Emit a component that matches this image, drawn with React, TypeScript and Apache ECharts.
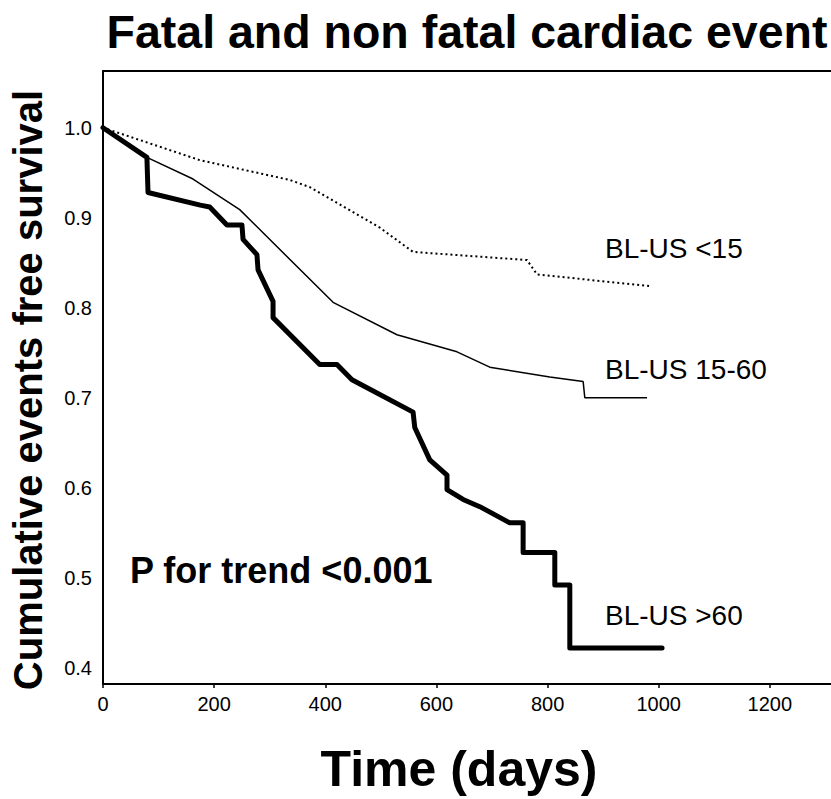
import React, { useEffect, useRef } from "react";
import * as echarts from "echarts";

// BL-US >60 (thick)
const highDays = [0, 79, 81, 175, 192, 223, 250, 252, 277, 279, 306, 306, 390, 421, 448, 558, 561, 588, 619, 619, 648, 678, 732, 756, 756, 813, 813, 840, 840, 1006];
const highSurv = [1.0, 0.967, 0.928, 0.914, 0.912, 0.892, 0.892, 0.876, 0.859, 0.842, 0.807, 0.789, 0.737, 0.737, 0.72, 0.684, 0.667, 0.631, 0.614, 0.598, 0.587, 0.579, 0.561, 0.561, 0.528, 0.528, 0.492, 0.492, 0.422, 0.422];

// BL-US 15-60 (thin)
const midDays = [0, 79, 162, 246, 414, 529, 637, 696, 804, 864, 867, 979];
const midSurv = [1.0, 0.967, 0.943, 0.909, 0.806, 0.77, 0.751, 0.734, 0.723, 0.718, 0.7, 0.7];

// BL-US <15 (dotted)
const lowDays = [0, 174, 336, 372, 498, 558, 763, 781, 984];
const lowSurv = [1.0, 0.964, 0.942, 0.934, 0.889, 0.862, 0.853, 0.837, 0.824];

const xTicks = [0, 200, 400, 600, 800, 1000, 1200];
const yTicks = [0.4, 0.5, 0.6, 0.7, 0.8, 0.9, 1.0];

const titleText = "Fatal and non fatal cardiac event";
const xName = "Time (days)";
const yName = "Cumulative events free survival";
const pText = "P for trend <0.001";
const seriesNames = ["BL-US <15", "BL-US 15-60", "BL-US >60"];

const FONT = "'Liberation Sans', Arial, Helvetica, sans-serif";

function pairs(xs: number[], ys: number[]) {
  return xs.map((x, i) => [x, ys[i]]);
}

export default function App() {
  const ref = useRef<HTMLDivElement>(null);
  useEffect(() => {
    document.body.style.margin = "0";
    const chart = echarts.init(ref.current!, null, { renderer: "svg" });
    const axisLine = { show: true, lineStyle: { color: "#000", width: 2 } };
    chart.setOption({
      animation: false,
      backgroundColor: "#fff",
      grid: { left: 103, right: 0, top: 71, bottom: 115, containLabel: false, outerBoundsMode: "none" },
      xAxis: [
        {
          type: "value",
          min: 0,
          max: 1310,
          position: "bottom",
          axisLine,
          axisTick: { show: true, length: 4, customValues: xTicks, lineStyle: { color: "#000", width: 1.5 } },
          axisLabel: {
            customValues: xTicks,
            formatter: (v: number) => String(v),
            fontSize: 20,
            color: "#000",
            fontFamily: FONT,
            margin: 10,
          },
          splitLine: { show: false },
        },
        {
          type: "value",
          min: 0,
          max: 1310,
          position: "top",
          axisLine,
          axisTick: { show: false },
          axisLabel: { show: false },
          splitLine: { show: false },
        },
      ],
      yAxis: {
        type: "value",
        min: 0.382,
        max: 1.063,
        axisLine,
        axisTick: { show: false },
        axisLabel: {
          customValues: yTicks,
          formatter: (v: number) => v.toFixed(1),
          fontSize: 20,
          color: "#000",
          fontFamily: FONT,
          margin: 11,
        },
        splitLine: { show: false },
      },
      series: [
        {
          name: seriesNames[0],
          type: "line",
          data: pairs(lowDays, lowSurv),
          showSymbol: false,
          symbol: "none",
          lineStyle: { color: "#000", width: 2, type: [2, 3] },
        },
        {
          name: seriesNames[1],
          type: "line",
          data: pairs(midDays, midSurv),
          showSymbol: false,
          symbol: "none",
          lineStyle: { color: "#000", width: 1.5 },
        },
        {
          name: seriesNames[2],
          type: "line",
          data: pairs(highDays, highSurv),
          showSymbol: false,
          symbol: "none",
          lineStyle: { color: "#000", width: 5, join: "round", cap: "round" },
        },
      ],
      graphic: [
        {
          type: "text",
          x: 467,
          y: 32,
          style: { text: titleText, font: `bold 46.5px ${FONT}`, fill: "#000", textAlign: "center", textVerticalAlign: "middle" },
        },
        {
          type: "text",
          x: 28,
          y: 390,
          rotation: Math.PI / 2,
          style: { text: yName, font: `bold 40px ${FONT}`, fill: "#000", textAlign: "center", textVerticalAlign: "middle" },
        },
        {
          type: "text",
          x: 459,
          y: 769,
          style: { text: xName, font: `bold 50px ${FONT}`, fill: "#000", textAlign: "center", textVerticalAlign: "middle" },
        },
        {
          type: "text",
          x: 130,
          y: 570,
          style: { text: pText, font: `bold 36px ${FONT}`, fill: "#000", textAlign: "left", textVerticalAlign: "middle" },
        },
        {
          type: "text",
          x: 605,
          y: 248,
          style: { text: seriesNames[0], font: `28px ${FONT}`, fill: "#000", textAlign: "left", textVerticalAlign: "middle" },
        },
        {
          type: "text",
          x: 605,
          y: 369,
          style: { text: seriesNames[1], font: `28px ${FONT}`, fill: "#000", textAlign: "left", textVerticalAlign: "middle" },
        },
        {
          type: "text",
          x: 605,
          y: 615,
          style: { text: seriesNames[2], font: `28px ${FONT}`, fill: "#000", textAlign: "left", textVerticalAlign: "middle" },
        },
      ],
    });
    return () => chart.dispose();
  }, []);
  return <div ref={ref} style={{ width: 831, height: 799 }} />;
}
